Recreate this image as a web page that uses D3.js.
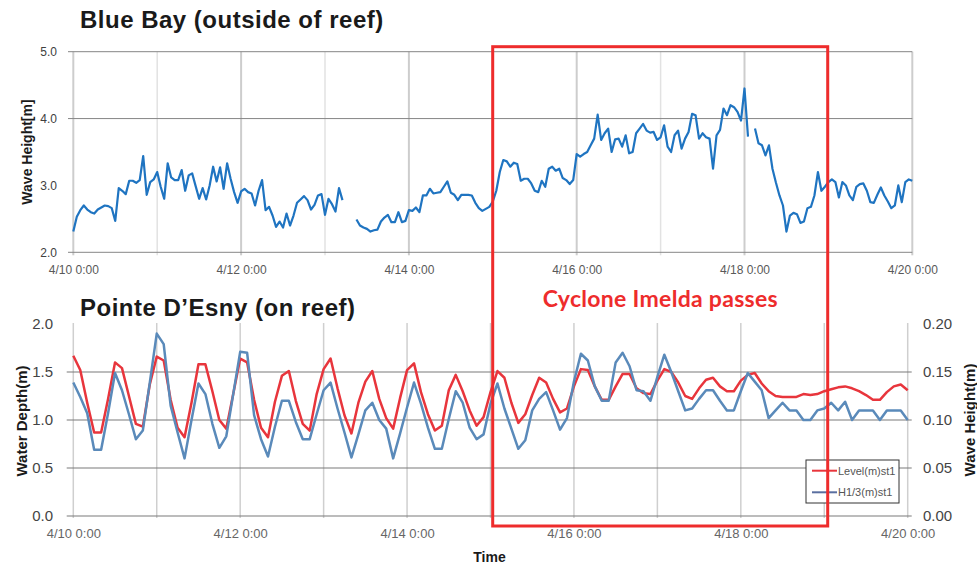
<!DOCTYPE html>
<html>
<head>
<meta charset="utf-8">
<script src="https://cdn.jsdelivr.net/npm/d3@7"></script>
<style>
body { margin: 0; background: #fff; }
svg { display: block; font-family: "Liberation Sans", Arial, sans-serif; }
</style>
</head>
<body>
<svg id="chart" width="977" height="568"></svg>
<script>
// Blue Bay wave height [m], hourly from 4/10 0:00 (null = no record)
var blueBayHeight = [
  2.31, 2.53, 2.63, 2.70, 2.64, 2.60, 2.58, 2.64, 2.67, 2.70,
  2.69, 2.66, 2.47, 2.96, 2.92, 2.87, 3.07, 3.07, 3.04, 3.08,
  3.44, 2.86, 3.05, 3.09, 3.20, 2.98, 2.80, 3.33, 3.12, 3.08,
  3.08, 3.23, 2.92, 3.15, 3.18, 2.99, 2.80, 2.96, 2.79, 3.00,
  3.28, 3.06, 3.27, 2.95, 3.33, 3.10, 2.90, 2.74, 2.91, 2.95,
  2.90, 2.88, 2.70, 2.92, 3.08, 2.63, 2.68, 2.55, 2.38, 2.46,
  2.37, 2.58, 2.40, 2.55, 2.74, 2.79, 2.84, 2.78, 2.64, 2.71,
  2.85, 2.87, 2.56, 2.80, 2.72, 2.61, 2.96, 2.78, null, null,
  null, 2.49, 2.40, 2.37, 2.35, 2.31, 2.33, 2.34, 2.46, 2.52,
  2.56, 2.45, 2.45, 2.60, 2.45, 2.47, 2.63, 2.62, 2.67, 2.60,
  2.85, 2.85, 2.95, 2.88, 2.89, 2.90, 2.98, 3.06, 2.89, 2.86,
  2.78, 2.86, 2.86, 2.86, 2.85, 2.74, 2.66, 2.62, 2.65, 2.68,
  2.76, 2.92, 3.20, 3.38, 3.36, 3.28, 3.34, 3.32, 3.07, 3.10,
  3.10, 3.03, 2.92, 2.90, 3.07, 2.98, 3.25, 3.28, 3.22, 3.25,
  3.11, 3.08, 3.02, 3.08, 3.47, 3.43, 3.47, 3.50, 3.60, 3.70,
  4.06, 3.68, 3.78, 3.85, 3.50, 3.69, 3.70, 3.58, 3.75, 3.48,
  3.50, 3.78, 3.85, 3.92, 3.82, 3.79, 3.80, 3.68, 3.72, 3.90,
  3.58, 3.50, 3.75, 3.82, 3.55, 3.70, 3.80, 4.07, 4.05, 3.70,
  3.78, 3.72, 3.70, 3.25, 3.75, 3.83, 4.15, 4.05, 4.20, 4.17,
  4.10, 3.97, 4.45, 3.73, null, 3.85, 3.63, 3.60, 3.45, 3.60,
  3.25, 3.04, 2.85, 2.70, 2.31, 2.55, 2.59, 2.57, 2.44, 2.46,
  2.66, 2.68, 2.85, 3.20, 2.92, 2.98, 3.05, 3.09, 3.05, 2.82,
  3.05, 3.00, 2.85, 2.78, 2.98, 3.02, 3.03, 2.92, 2.75, 2.74,
  2.86, 2.97, 2.85, 2.76, 2.66, 2.70, 3.00, 2.75, 3.05, 3.09,
  3.07
];

// Pointe D'Esny, every 2 hours from 4/10 0:00
var esnyLevel = [
  1.67, 1.52, 1.18, 0.87, 0.87, 1.22, 1.60, 1.54, 1.25, 0.96,
  0.93, 1.37, 1.66, 1.62, 1.21, 0.92, 0.82, 1.18, 1.58, 1.58,
  1.30, 1.00, 0.91, 1.27, 1.64, 1.60, 1.21, 0.92, 0.82, 1.19,
  1.46, 1.51, 1.20, 0.96, 0.89, 1.27, 1.53, 1.64, 1.33, 1.05,
  0.86, 1.18, 1.40, 1.51, 1.22, 1.02, 0.91, 1.23, 1.52, 1.59,
  1.29, 1.06, 0.89, 0.94, 1.31, 1.47, 1.30, 1.10, 0.94, 1.03,
  1.29, 1.51, 1.44, 1.18, 0.97, 1.06, 1.26, 1.44, 1.39, 1.22,
  1.08, 1.12, 1.35, 1.53, 1.52, 1.35, 1.21, 1.21, 1.35, 1.48,
  1.48, 1.33, 1.28, 1.27, 1.41, 1.53, 1.50, 1.39, 1.25, 1.22,
  1.33, 1.42, 1.44, 1.35, 1.30, 1.30, 1.41, 1.47, 1.49, 1.38,
  1.30, 1.25, 1.24, 1.24, 1.24, 1.27, 1.26, 1.27, 1.30, 1.32,
  1.34, 1.35, 1.33, 1.30, 1.26, 1.21, 1.21, 1.29, 1.35, 1.37,
  1.31
];
var esnyH13 = [
  0.139, 0.124, 0.107, 0.069, 0.069, 0.107, 0.149, 0.131, 0.106, 0.080,
  0.089, 0.139, 0.190, 0.179, 0.115, 0.087, 0.060, 0.100, 0.138, 0.127,
  0.096, 0.071, 0.083, 0.127, 0.171, 0.170, 0.105, 0.080, 0.062, 0.093,
  0.120, 0.120, 0.098, 0.080, 0.080, 0.106, 0.131, 0.139, 0.112, 0.087,
  0.061, 0.085, 0.110, 0.118, 0.100, 0.091, 0.060, 0.086, 0.113, 0.139,
  0.117, 0.092, 0.070, 0.070, 0.101, 0.130, 0.118, 0.092, 0.080, 0.085,
  0.117, 0.138, 0.112, 0.091, 0.070, 0.079, 0.110, 0.122, 0.129, 0.110,
  0.090, 0.102, 0.140, 0.169, 0.162, 0.135, 0.120, 0.120, 0.160, 0.170,
  0.156, 0.131, 0.130, 0.120, 0.145, 0.168, 0.150, 0.130, 0.110, 0.112,
  0.122, 0.131, 0.131, 0.120, 0.110, 0.110, 0.130, 0.149, 0.140, 0.131,
  0.102, 0.110, 0.118, 0.110, 0.110, 0.100, 0.100, 0.110, 0.112, 0.118,
  0.110, 0.119, 0.100, 0.110, 0.110, 0.110, 0.100, 0.110, 0.110, 0.110,
  0.100
];

var startDate = new Date(2013, 3, 10);
var endDate = new Date(2013, 3, 20);
var gridDays = d3.timeDay.range(startDate, d3.timeDay.offset(endDate, 1));
var labelDays = gridDays.filter((d, i) => i % 2 === 0);
var blueBayTicks = [2.0, 3.0, 4.0, 5.0];
var blueBayLines = [2.0, 4.0, 5.0];
var depthTicks = [0.0, 0.5, 1.0, 1.5, 2.0];
var depthLines = [0.0, 0.5, 1.0, 1.5];
var waveTicks = [0.00, 0.05, 0.10, 0.15, 0.20];

var svg = d3.select("#chart");
var fmtDay = d => (d.getMonth() + 1) + "/" + d.getDate() + " 0:00";

// ---------- Blue Bay (top) ----------
var x1 = d3.scaleTime().domain([startDate, endDate]).range([73.3, 912.3]);
var y1 = d3.scaleLinear().domain([2, 5]).range([252.3, 51.7]);

var topChart = svg.append("g");

topChart.selectAll(".vgrid")
    .data(gridDays)
    .enter().append("line")
    .attr("x1", d => x1(d)).attr("x2", d => x1(d))
    .attr("y1", y1(5)).attr("y2", y1(2) + 3)
    .attr("stroke", (d, i) => i % 2 === 0 ? "#cdcdcd" : "#e2e2e2")
    .attr("stroke-width", (d, i) => i % 2 === 0 ? 2 : 1.5);

topChart.selectAll(".hgrid")
    .data(blueBayLines)
    .enter().append("line")
    .attr("x1", 68).attr("x2", x1(endDate))
    .attr("y1", d => y1(d)).attr("y2", d => y1(d))
    .attr("stroke", "#868686")
    .attr("stroke-width", 1);

var yAxis1 = topChart.append("g")
    .attr("transform", "translate(60,0)")
    .call(d3.axisLeft(y1).tickValues(blueBayTicks).tickSize(0).tickPadding(3).tickFormat(d3.format(".1f")));
yAxis1.select(".domain").remove();
yAxis1.selectAll("text").style("font-size", "12px").attr("fill", "#404040");

var xAxis1 = topChart.append("g")
    .attr("transform", "translate(0,262.5)")
    .call(d3.axisBottom(x1).tickValues(labelDays).tickSize(0).tickPadding(3).tickFormat(fmtDay));
xAxis1.select(".domain").remove();
xAxis1.selectAll("text").style("font-size", "12px").attr("fill", "#595959");

topChart.append("text")
    .attr("transform", "translate(32,152) rotate(-90)")
    .attr("text-anchor", "middle")
    .style("font-size", "14px").style("font-weight", "bold")
    .attr("fill", "#1a1a1a")
    .text("Wave Height[m]");

var line1 = d3.line()
    .defined(d => d.v != null)
    .x(d => x1(d.t))
    .y(d => y1(d.v));

topChart.append("path")
    .datum(blueBayHeight.map((v, i) => ({ t: d3.timeHour.offset(startDate, i), v: v })))
    .attr("d", line1)
    .attr("fill", "none")
    .attr("stroke", "#1f74c1")
    .attr("stroke-width", 2.2)
    .attr("stroke-linejoin", "round");

svg.append("text")
    .attr("x", 80).attr("y", 28)
    .style("font-size", "24px").style("font-weight", "bold").style("letter-spacing", "0.5px")
    .attr("fill", "#1a1a1a")
    .text("Blue Bay (outside of reef)");

// ---------- Pointe D'Esny (bottom) ----------
var x2 = d3.scaleTime().domain([startDate, endDate]).range([73.3, 907.7]);
var yL = d3.scaleLinear().domain([0, 2]).range([516, 324]);
var yR = d3.scaleLinear().domain([0, 0.2]).range([516, 324]);

var bottomChart = svg.append("g");

bottomChart.selectAll(".vgrid")
    .data(gridDays)
    .enter().append("line")
    .attr("x1", d => x2(d)).attr("x2", d => x2(d))
    .attr("y1", 323).attr("y2", 518)
    .attr("stroke", "#cfcfcf")
    .attr("stroke-width", 1.5);

bottomChart.selectAll(".hgrid")
    .data(depthLines)
    .enter().append("line")
    .attr("x1", 66.7).attr("x2", 911.7)
    .attr("y1", d => yL(d)).attr("y2", d => yL(d))
    .attr("stroke", "#7a7a7a")
    .attr("stroke-width", 1.2);

var yAxisL = bottomChart.append("g")
    .attr("transform", "translate(56,0)")
    .call(d3.axisLeft(yL).tickValues(depthTicks).tickSize(0).tickPadding(3).tickFormat(d3.format(".1f")));
yAxisL.select(".domain").remove();
yAxisL.selectAll("text").style("font-size", "15px").attr("fill", "#444");

var yAxisR = bottomChart.append("g")
    .attr("transform", "translate(920,0)")
    .call(d3.axisRight(yR).tickValues(waveTicks).tickSize(0).tickPadding(3).tickFormat(d3.format(".2f")));
yAxisR.select(".domain").remove();
yAxisR.selectAll("text").style("font-size", "15px").attr("fill", "#444");

var xAxis2 = bottomChart.append("g")
    .attr("transform", "translate(0,525.8)")
    .call(d3.axisBottom(x2).tickValues(labelDays).tickSize(0).tickPadding(3).tickFormat(fmtDay));
xAxis2.select(".domain").remove();
xAxis2.selectAll("text").style("font-size", "13px").attr("fill", "#666");

bottomChart.append("text")
    .attr("transform", "translate(27,421) rotate(-90)")
    .attr("text-anchor", "middle")
    .style("font-size", "15px").style("font-weight", "bold")
    .attr("fill", "#1a1a1a")
    .text("Water Depth(m)");

bottomChart.append("text")
    .attr("transform", "translate(975,420) rotate(-90)")
    .attr("text-anchor", "middle")
    .style("font-size", "15px").style("font-weight", "bold")
    .attr("fill", "#1a1a1a")
    .text("Wave Height(m)");

bottomChart.append("text")
    .attr("x", 489.5).attr("y", 562)
    .attr("text-anchor", "middle")
    .style("font-size", "14px").style("font-weight", "bold")
    .attr("fill", "#1a1a1a")
    .text("Time");

var levelLine = d3.line()
    .x((d, i) => x2(d3.timeHour.offset(startDate, i * 2)))
    .y(d => yL(d));
var waveLine = d3.line()
    .x((d, i) => x2(d3.timeHour.offset(startDate, i * 2)))
    .y(d => yR(d));

bottomChart.append("path")
    .datum(esnyLevel)
    .attr("d", levelLine)
    .attr("fill", "none")
    .attr("stroke", "#e8353c")
    .attr("stroke-width", 2.5)
    .attr("stroke-linejoin", "round");

bottomChart.append("path")
    .datum(esnyH13)
    .attr("d", waveLine)
    .attr("fill", "none")
    .attr("stroke", "#5a8aba")
    .attr("stroke-width", 2.5)
    .attr("stroke-linejoin", "round");

// legend
var legend = bottomChart.append("g");
legend.append("rect")
    .attr("x", 806).attr("y", 460).attr("width", 93).attr("height", 43)
    .attr("fill", "#fff").attr("stroke", "#333").attr("stroke-width", 1);

var legendItems = [
    { name: "Level(m)st1", color: "#e8353c", y: 470.7 },
    { name: "H1/3(m)st1", color: "#5a6fa0", y: 492.3 }
];
legendItems.forEach(function (item) {
    legend.append("line")
        .attr("x1", 812).attr("x2", 837)
        .attr("y1", item.y).attr("y2", item.y)
        .attr("stroke", item.color).attr("stroke-width", 2);
    legend.append("text")
        .attr("x", 838).attr("y", item.y + 3.8)
        .style("font-size", "11px")
        .attr("fill", "#555")
        .text(item.name);
});

svg.append("text")
    .attr("x", 80).attr("y", 316)
    .style("font-size", "24px").style("font-weight", "bold").style("letter-spacing", "0.5px")
    .attr("fill", "#1a1a1a")
    .text("Pointe D\u2019Esny (on reef)");

// cyclone window
svg.append("rect")
    .attr("x", 492.7).attr("y", 46.7)
    .attr("width", 335).attr("height", 479.3)
    .attr("fill", "none")
    .attr("stroke", "#ee2c2c")
    .attr("stroke-width", 3);

svg.append("text")
    .attr("x", 542.7).attr("y", 306.5)
    .style("font-family", "Lato, 'Open Sans', sans-serif")
    .style("font-size", "23px").style("font-weight", "bold").style("letter-spacing", "0.3px")
    .attr("fill", "#ee2c2c")
    .text("Cyclone Imelda passes");
</script>
</body>
</html>
